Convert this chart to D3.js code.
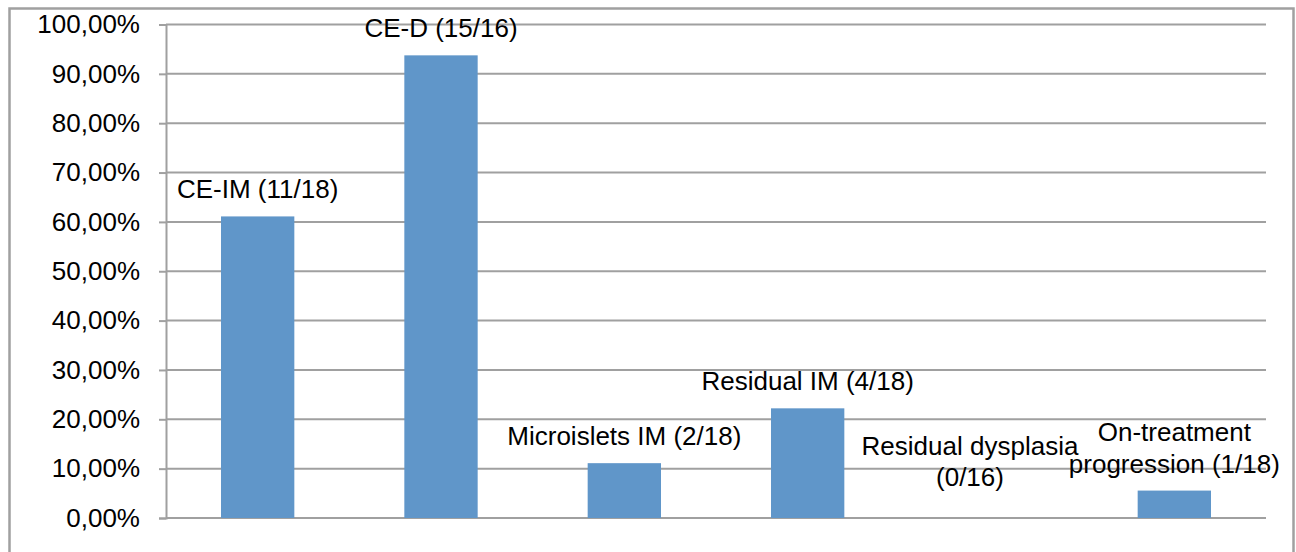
<!DOCTYPE html>
<html lang="en">
<head>
    <meta charset="UTF-8">
    <title>Response rates</title>
    <script src="https://d3js.org/d3.v7.min.js"></script>
    <style>
        body {
            margin: 0;
            background: #fff;
            font-family: "Liberation Sans", Arial, sans-serif;
        }
        svg { display: block; }
    </style>
</head>
<body>
    <div id="chart"></div>
    <script>
        // Data
        const categories = ['CE-IM', 'CE-D', 'Microislets IM', 'Residual IM', 'Residual dysplasia', 'On-treatment'];
        const labels = [
            ['CE-IM (11/18)'],
            ['CE-D (15/16)'],
            ['Microislets IM (2/18)'],
            ['Residual IM (4/18)'],
            ['Residual dysplasia', '(0/16)'],
            ['On-treatment', 'progression (1/18)']
        ];
        const values = [11 / 18, 15 / 16, 2 / 18, 4 / 18, 0 / 16, 1 / 18];
        const yTicks = [0, 0.1, 0.2, 0.3, 0.4, 0.5, 0.6, 0.7, 0.8, 0.9, 1.0];

        const W = 1296, H = 552;
        const margin = { top: 24.5, right: 30, bottom: 34, left: 166 };
        const width = W - margin.left - margin.right;
        const height = H - margin.top - margin.bottom;

        const svg = d3.select('#chart')
            .append('svg')
            .attr('width', W)
            .attr('height', H);

        // Outer chart border
        svg.append('rect')
            .attr('x', 9.5)
            .attr('y', 8.5)
            .attr('width', 1284)
            .attr('height', 560)
            .attr('fill', 'none')
            .attr('stroke', '#a0a0a0')
            .attr('stroke-width', 2.5);

        const g = svg.append('g')
            .attr('transform', `translate(${margin.left},${margin.top})`);

        const x = d3.scaleBand()
            .domain(categories)
            .range([0, width])
            .paddingInner(0.6)
            .paddingOuter(0.3);

        const y = d3.scaleLinear()
            .domain([0, 1])
            .range([height, 0]);

        // Gridlines
        g.append('g')
            .selectAll('line')
            .data(yTicks)
            .enter()
            .append('line')
            .attr('x1', 0)
            .attr('x2', width)
            .attr('y1', d => y(d))
            .attr('y2', d => y(d))
            .attr('stroke', '#a0a0a0')
            .attr('stroke-width', 2);

        // Y axis
        const fmt = d => d3.format('.2f')(d * 100).replace('.', ',') + '%';
        const yAxis = g.append('g')
            .call(d3.axisLeft(y).tickValues(yTicks).tickFormat(fmt).tickSize(7).tickPadding(19));
        yAxis.select('.domain').attr('stroke', '#a0a0a0').attr('stroke-width', 2);
        yAxis.selectAll('.tick line').attr('stroke', '#a0a0a0').attr('stroke-width', 2);
        yAxis.selectAll('.tick text')
            .attr('fill', '#000')
            .style('font-size', '26px')
            .style('font-family', '"Liberation Sans", Arial, sans-serif');

        // Bars
        g.selectAll('rect.bar')
            .data(values)
            .enter()
            .append('rect')
            .attr('class', 'bar')
            .attr('x', (d, i) => x(categories[i]))
            .attr('y', d => y(d))
            .attr('width', x.bandwidth())
            .attr('height', d => height - y(d))
            .attr('fill', '#6096c9');

        // Data labels (the zero-height one is nudged like Excel does)
        const nudge = [[0, 0], [0, 0], [0, 0], [0, 0], [-21, -14], [0, 0]];
        const lineH = 31.5;
        labels.forEach((lines, i) => {
            const cx = x(categories[i]) + x.bandwidth() / 2 + nudge[i][0];
            const base = y(values[i]) - 27 + nudge[i][1];
            const t = g.append('text')
                .attr('text-anchor', 'middle')
                .attr('dominant-baseline', 'central')
                .style('font-size', '26px')
                .attr('fill', '#000');
            lines.forEach((ln, j) => {
                t.append('tspan')
                    .attr('x', cx)
                    .attr('y', base - (lines.length - 1 - j) * lineH)
                    .text(ln);
            });
        });
    </script>
</body>
</html>
